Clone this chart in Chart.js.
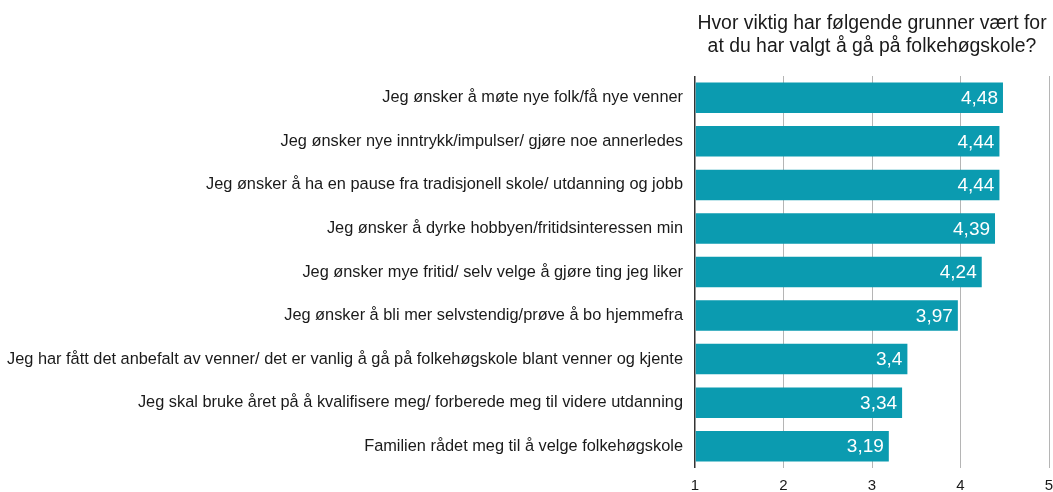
<!DOCTYPE html>
<html lang="no">
<head>
    <meta charset="UTF-8">
    <title>Hvor viktig har følgende grunner vært</title>
    <script src="https://cdn.jsdelivr.net/npm/chart.js"></script>
    <style>
        body {
            margin: 0;
            padding: 0;
            background: #ffffff;
        }
        .wrap {
            width: 1053px;
            height: 492px;
        }
    </style>
</head>
<body>
    <div class="wrap">
        <canvas id="reasonsChart" width="1053" height="492"></canvas>
    </div>

    <script>
        // data
        const titleLines = ['Hvor viktig har følgende grunner vært for', 'at du har valgt å gå på folkehøgskole?'];
        const categories = [
            'Jeg ønsker å møte nye folk/få nye venner',
            'Jeg ønsker nye inntrykk/impulser/ gjøre noe annerledes',
            'Jeg ønsker å ha en pause fra tradisjonell skole/ utdanning og jobb',
            'Jeg ønsker å dyrke hobbyen/fritidsinteressen min',
            'Jeg ønsker mye fritid/ selv velge å gjøre ting jeg liker',
            'Jeg ønsker å bli mer selvstendig/prøve å bo hjemmefra',
            'Jeg har fått det anbefalt av venner/ det er vanlig å gå på folkehøgskole blant venner og kjente',
            'Jeg skal bruke året på å kvalifisere meg/ forberede meg til videre utdanning',
            'Familien rådet meg til å velge folkehøgskole'
        ];
        const scores = [4.48, 4.44, 4.44, 4.39, 4.24, 3.97, 3.4, 3.34, 3.19];
        const tickValues = [1, 2, 3, 4, 5];

        const fontFamily = "'Liberation Sans', Arial, Helvetica, sans-serif";

        // title centred over the plot area
        const titlePlugin = {
            id: 'plotTitle',
            afterDraw(chart) {
                const { ctx, chartArea } = chart;
                const cx = (chartArea.left + chartArea.right) / 2;
                ctx.save();
                ctx.font = '19.4px ' + fontFamily;
                ctx.fillStyle = '#1a1a1a';
                ctx.textAlign = 'center';
                ctx.textBaseline = 'alphabetic';
                ctx.fillText(titleLines[0], cx, 29);
                ctx.fillText(titleLines[1], cx, 52);
                ctx.restore();
            }
        };

        // white value labels at the end of each bar
        const valueLabels = {
            id: 'valueLabels',
            afterDatasetsDraw(chart) {
                const { ctx } = chart;
                const meta = chart.getDatasetMeta(0);
                ctx.save();
                ctx.font = '19px ' + fontFamily;
                ctx.fillStyle = '#ffffff';
                ctx.textAlign = 'right';
                ctx.textBaseline = 'middle';
                meta.data.forEach((bar, i) => {
                    const txt = String(scores[i]).replace('.', ',');
                    ctx.fillText(txt, bar.x - 5, bar.y + 1);
                });
                ctx.restore();
            }
        };

        new Chart(document.getElementById('reasonsChart'), {
            type: 'bar',
            data: {
                labels: categories,
                datasets: [{
                    data: scores,
                    base: 1,
                    backgroundColor: '#0b9bb0',
                    borderWidth: 0,
                    categoryPercentage: 1,
                    barPercentage: 0.7
                }]
            },
            options: {
                indexAxis: 'y',
                responsive: false,
                animation: false,
                layout: {
                    padding: { top: 76, left: 0, right: 0, bottom: 0 }
                },
                plugins: {
                    legend: { display: false },
                    title: { display: false },
                    tooltip: { enabled: false }
                },
                scales: {
                    x: {
                        min: 1,
                        max: 5,
                        afterBuildTicks(scale) {
                            scale.ticks = tickValues.map(v => ({ value: v }));
                        },
                        afterFit(scale) {
                            scale.height = 24;
                            scale.paddingLeft = 0;
                            scale.paddingRight = 4;
                        },
                        border: { display: false },
                        grid: {
                            drawTicks: false,
                            color: ctx => ctx.tick && ctx.tick.value === 1 ? '#333333' : '#b5b5b5',
                            lineWidth: ctx => ctx.tick && ctx.tick.value === 1 ? 1.5 : 1
                        },
                        ticks: {
                            padding: 9,
                            color: '#1a1a1a',
                            font: { size: 15, family: fontFamily }
                        }
                    },
                    y: {
                        afterFit(scale) {
                            scale.width = 695;
                        },
                        border: { display: false },
                        grid: { display: false, drawTicks: false },
                        ticks: {
                            padding: 12,
                            color: '#1a1a1a',
                            font: { size: 16.35, family: fontFamily }
                        }
                    }
                }
            },
            plugins: [titlePlugin, valueLabels]
        });
    </script>
</body>
</html>
